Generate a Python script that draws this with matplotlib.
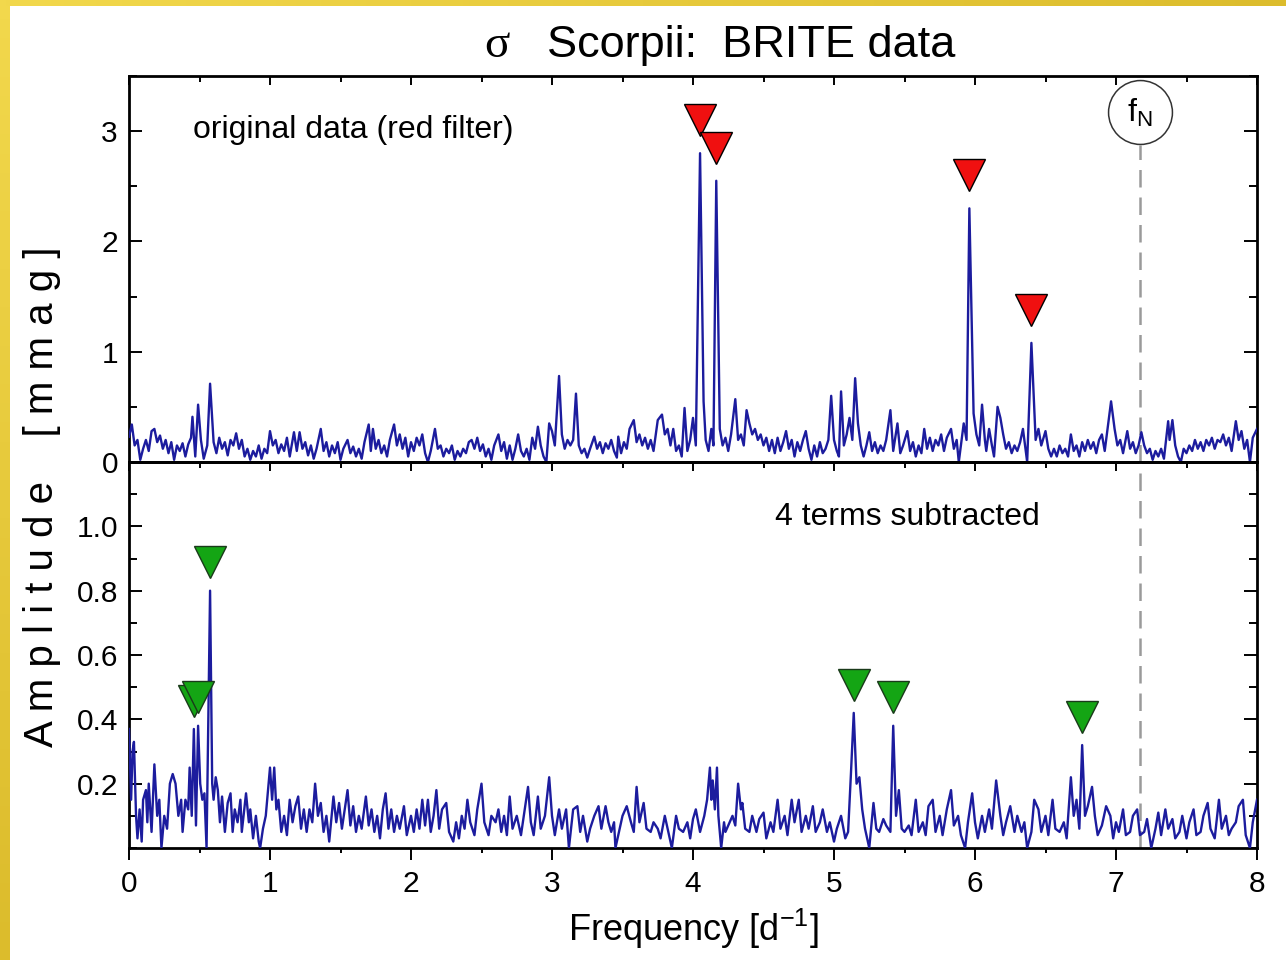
import numpy as np
import matplotlib
matplotlib.use("Agg")
import matplotlib.pyplot as plt
from matplotlib.ticker import MultipleLocator, FixedLocator, FixedFormatter, NullFormatter

plt.rcParams['font.family'] = ['Liberation Sans', 'DejaVu Sans']

# Amplitude spectrum of the original red-filter light curve (freq [1/d], amp [mmag])
top_spectrum = [
    (0.00, 0.23), (0.02, 0.34), (0.04, 0.15), (0.06, 0.20), (0.08, 0.02), (0.10, 0.12), (0.12, 0.20),
    (0.14, 0.10), (0.16, 0.28), (0.18, 0.30), (0.20, 0.18), (0.22, 0.24), (0.24, 0.12), (0.26, 0.20),
    (0.28, 0.08), (0.30, 0.18), (0.32, 0.02), (0.34, 0.15), (0.36, 0.10), (0.38, 0.17), (0.40, 0.05),
    (0.42, 0.16), (0.44, 0.22), (0.45, 0.41), (0.47, 0.05), (0.49, 0.52), (0.51, 0.20), (0.53, 0.03),
    (0.555, 0.15), (0.575, 0.71), (0.60, 0.18), (0.62, 0.08), (0.64, 0.22), (0.66, 0.12), (0.68, 0.18),
    (0.70, 0.06), (0.72, 0.20), (0.74, 0.15), (0.76, 0.26), (0.78, 0.12), (0.80, 0.20), (0.82, 0.05),
    (0.84, 0.12), (0.86, 0.02), (0.88, 0.10), (0.90, 0.05), (0.92, 0.15), (0.94, 0.03), (0.96, 0.12),
    (0.98, 0.08), (1.00, 0.28), (1.02, 0.15), (1.04, 0.20), (1.06, 0.08), (1.08, 0.16), (1.10, 0.10),
    (1.12, 0.22), (1.14, 0.05), (1.17, 0.27), (1.19, 0.10), (1.21, 0.27), (1.23, 0.12), (1.25, 0.18),
    (1.27, 0.06), (1.29, 0.15), (1.31, 0.03), (1.33, 0.12), (1.36, 0.30), (1.38, 0.10), (1.40, 0.18),
    (1.42, 0.05), (1.44, 0.15), (1.46, 0.08), (1.48, 0.18), (1.50, 0.02), (1.52, 0.12), (1.55, 0.20),
    (1.57, 0.08), (1.59, 0.14), (1.61, 0.05), (1.63, 0.12), (1.65, 0.03), (1.67, 0.18), (1.70, 0.34),
    (1.715, 0.10), (1.73, 0.30), (1.75, 0.12), (1.77, 0.20), (1.79, 0.08), (1.81, 0.15), (1.83, 0.05),
    (1.85, 0.20), (1.88, 0.34), (1.90, 0.15), (1.92, 0.25), (1.94, 0.12), (1.96, 0.22), (1.98, 0.05),
    (2.00, 0.18), (2.02, 0.10), (2.04, 0.22), (2.06, 0.15), (2.08, 0.25), (2.10, 0.08), (2.12, 0.00),
    (2.14, 0.10), (2.17, 0.30), (2.19, 0.12), (2.21, 0.15), (2.23, 0.05), (2.25, 0.12), (2.27, 0.08),
    (2.29, 0.15), (2.31, 0.02), (2.33, 0.10), (2.35, 0.05), (2.37, 0.12), (2.39, 0.08), (2.41, 0.18),
    (2.43, 0.20), (2.45, 0.12), (2.47, 0.22), (2.49, 0.10), (2.51, 0.16), (2.53, 0.05), (2.55, 0.12),
    (2.57, 0.02), (2.59, 0.15), (2.62, 0.25), (2.64, 0.10), (2.66, 0.18), (2.68, 0.03), (2.70, 0.15),
    (2.72, 0.02), (2.74, 0.12), (2.76, 0.25), (2.78, 0.10), (2.80, 0.05), (2.82, 0.12), (2.84, 0.02),
    (2.86, 0.22), (2.88, 0.12), (2.90, 0.32), (2.92, 0.15), (2.94, 0.05), (2.96, 0.00), (2.98, 0.35),
    (3.00, 0.28), (3.02, 0.15), (3.05, 0.78), (3.07, 0.25), (3.09, 0.12), (3.11, 0.20), (3.13, 0.15),
    (3.15, 0.20), (3.17, 0.62), (3.19, 0.15), (3.21, 0.08), (3.23, 0.12), (3.25, 0.04), (3.27, 0.12),
    (3.30, 0.23), (3.32, 0.12), (3.34, 0.18), (3.36, 0.08), (3.38, 0.17), (3.40, 0.12), (3.42, 0.20),
    (3.44, 0.10), (3.46, 0.04), (3.47, 0.23), (3.49, 0.08), (3.51, 0.18), (3.53, 0.12), (3.55, 0.30),
    (3.58, 0.38), (3.60, 0.18), (3.62, 0.25), (3.64, 0.15), (3.66, 0.22), (3.68, 0.12), (3.70, 0.20),
    (3.72, 0.10), (3.75, 0.38), (3.78, 0.43), (3.80, 0.25), (3.82, 0.30), (3.84, 0.15), (3.86, 0.30),
    (3.88, 0.10), (3.90, 0.15), (3.92, 0.05), (3.94, 0.49), (3.96, 0.10), (3.98, 0.20), (4.00, 0.40),
    (4.02, 0.15), (4.05, 2.80), (4.075, 0.55), (4.09, 0.20), (4.11, 0.10), (4.13, 0.30), (4.145, 0.15),
    (4.165, 2.55), (4.19, 0.30), (4.21, 0.15), (4.23, 0.22), (4.25, 0.10), (4.27, 0.25), (4.30, 0.57),
    (4.32, 0.20), (4.34, 0.25), (4.36, 0.15), (4.38, 0.47), (4.40, 0.35), (4.42, 0.25), (4.44, 0.30),
    (4.46, 0.20), (4.48, 0.25), (4.50, 0.15), (4.52, 0.22), (4.54, 0.10), (4.56, 0.20), (4.58, 0.08),
    (4.60, 0.22), (4.62, 0.10), (4.64, 0.18), (4.66, 0.28), (4.68, 0.12), (4.70, 0.20), (4.72, 0.05),
    (4.74, 0.18), (4.76, 0.10), (4.78, 0.20), (4.80, 0.28), (4.82, 0.12), (4.84, 0.02), (4.86, 0.15),
    (4.88, 0.05), (4.90, 0.18), (4.92, 0.08), (4.94, 0.12), (4.96, 0.20), (4.98, 0.60), (5.00, 0.20),
    (5.02, 0.10), (5.035, 0.05), (5.05, 0.64), (5.07, 0.15), (5.09, 0.25), (5.11, 0.40), (5.13, 0.20),
    (5.15, 0.76), (5.17, 0.35), (5.19, 0.15), (5.21, 0.05), (5.23, 0.15), (5.25, 0.27), (5.27, 0.10),
    (5.29, 0.18), (5.31, 0.08), (5.33, 0.15), (5.35, 0.10), (5.37, 0.20), (5.40, 0.47), (5.42, 0.10),
    (5.45, 0.35), (5.47, 0.08), (5.49, 0.15), (5.52, 0.28), (5.54, 0.10), (5.56, 0.18), (5.58, 0.05),
    (5.60, 0.15), (5.62, 0.08), (5.64, 0.30), (5.66, 0.12), (5.68, 0.22), (5.70, 0.10), (5.72, 0.20),
    (5.74, 0.15), (5.76, 0.25), (5.78, 0.10), (5.80, 0.22), (5.83, 0.30), (5.85, 0.12), (5.87, 0.20),
    (5.885, 0.00), (5.90, 0.15), (5.92, 0.35), (5.94, 0.20), (5.96, 2.30), (5.99, 0.44), (6.01, 0.25),
    (6.03, 0.15), (6.05, 0.52), (6.07, 0.20), (6.08, 0.10), (6.10, 0.30), (6.12, 0.15), (6.135, 0.05),
    (6.16, 0.50), (6.18, 0.40), (6.20, 0.25), (6.22, 0.12), (6.24, 0.18), (6.26, 0.08), (6.28, 0.15),
    (6.30, 0.10), (6.32, 0.18), (6.34, 0.30), (6.36, 0.10), (6.37, 0.00), (6.40, 1.08), (6.43, 0.20),
    (6.45, 0.30), (6.47, 0.15), (6.50, 0.28), (6.52, 0.12), (6.54, 0.05), (6.56, 0.12), (6.58, 0.05),
    (6.60, 0.15), (6.62, 0.08), (6.64, 0.12), (6.66, 0.05), (6.68, 0.25), (6.70, 0.10), (6.72, 0.15),
    (6.74, 0.05), (6.76, 0.18), (6.78, 0.10), (6.80, 0.20), (6.82, 0.12), (6.84, 0.18), (6.86, 0.08),
    (6.88, 0.20), (6.90, 0.25), (6.92, 0.10), (6.94, 0.30), (6.965, 0.55), (6.99, 0.30), (7.01, 0.15),
    (7.03, 0.20), (7.05, 0.08), (7.08, 0.28), (7.10, 0.12), (7.12, 0.18), (7.14, 0.08), (7.16, 0.15),
    (7.18, 0.27), (7.20, 0.15), (7.22, 0.08), (7.24, 0.12), (7.26, 0.02), (7.28, 0.10), (7.30, 0.05),
    (7.32, 0.12), (7.34, 0.03), (7.37, 0.37), (7.38, 0.20), (7.40, 0.38), (7.42, 0.15), (7.44, 0.05),
    (7.46, 0.00), (7.48, 0.12), (7.50, 0.08), (7.52, 0.15), (7.54, 0.10), (7.56, 0.20), (7.58, 0.12),
    (7.60, 0.18), (7.62, 0.10), (7.64, 0.20), (7.66, 0.15), (7.68, 0.22), (7.70, 0.12), (7.72, 0.20),
    (7.74, 0.18), (7.76, 0.25), (7.78, 0.15), (7.80, 0.22), (7.82, 0.10), (7.85, 0.37), (7.87, 0.20),
    (7.89, 0.28), (7.91, 0.12), (7.93, 0.20), (7.95, 0.00), (7.97, 0.22), (8.00, 0.30),
]

# Amplitude spectrum after prewhitening four terms
bottom_spectrum = [
    (0.00, 0.37), (0.015, 0.15), (0.025, 0.30), (0.035, 0.33), (0.05, 0.10), (0.06, 0.03), (0.075, 0.12),
    (0.09, 0.02), (0.10, 0.15), (0.12, 0.18), (0.13, 0.08), (0.14, 0.20), (0.16, 0.05), (0.18, 0.26),
    (0.20, 0.10), (0.215, 0.15), (0.23, 0.00), (0.25, 0.10), (0.27, 0.06), (0.29, 0.20), (0.31, 0.23),
    (0.33, 0.20), (0.35, 0.10), (0.37, 0.15), (0.38, 0.05), (0.40, 0.15), (0.42, 0.12), (0.43, 0.25),
    (0.445, 0.10), (0.46, 0.37), (0.475, 0.07), (0.49, 0.38), (0.505, 0.20), (0.52, 0.15), (0.535, 0.17),
    (0.55, 0.00), (0.575, 0.80), (0.59, 0.20), (0.60, 0.15), (0.615, 0.22), (0.63, 0.18), (0.645, 0.08),
    (0.66, 0.16), (0.68, 0.05), (0.70, 0.14), (0.72, 0.17), (0.735, 0.05), (0.75, 0.12), (0.77, 0.08),
    (0.79, 0.15), (0.80, 0.05), (0.83, 0.17), (0.85, 0.08), (0.86, 0.12), (0.88, 0.03), (0.90, 0.10),
    (0.92, 0.02), (0.93, 0.00), (0.95, 0.06), (0.97, 0.10), (1.00, 0.25), (1.015, 0.15), (1.03, 0.25),
    (1.045, 0.12), (1.06, 0.15), (1.08, 0.05), (1.10, 0.10), (1.12, 0.04), (1.14, 0.15), (1.16, 0.08),
    (1.18, 0.13), (1.20, 0.16), (1.22, 0.06), (1.24, 0.12), (1.26, 0.05), (1.28, 0.12), (1.30, 0.08),
    (1.32, 0.20), (1.34, 0.10), (1.36, 0.14), (1.38, 0.05), (1.40, 0.10), (1.42, 0.02), (1.45, 0.16),
    (1.47, 0.08), (1.49, 0.14), (1.51, 0.06), (1.53, 0.12), (1.55, 0.18), (1.57, 0.07), (1.59, 0.13),
    (1.61, 0.05), (1.63, 0.10), (1.65, 0.06), (1.68, 0.16), (1.70, 0.07), (1.72, 0.12), (1.74, 0.05),
    (1.76, 0.10), (1.78, 0.03), (1.80, 0.12), (1.82, 0.17), (1.84, 0.06), (1.86, 0.12), (1.88, 0.05),
    (1.90, 0.10), (1.92, 0.06), (1.95, 0.13), (1.97, 0.04), (2.00, 0.10), (2.02, 0.05), (2.04, 0.12),
    (2.06, 0.06), (2.08, 0.15), (2.10, 0.07), (2.12, 0.15), (2.14, 0.05), (2.16, 0.10), (2.18, 0.18),
    (2.20, 0.06), (2.22, 0.12), (2.25, 0.14), (2.27, 0.05), (2.30, 0.02), (2.32, 0.08), (2.34, 0.03),
    (2.36, 0.10), (2.38, 0.06), (2.40, 0.15), (2.42, 0.08), (2.45, 0.04), (2.47, 0.12), (2.50, 0.20),
    (2.52, 0.08), (2.55, 0.04), (2.57, 0.10), (2.60, 0.08), (2.62, 0.12), (2.64, 0.05), (2.66, 0.10),
    (2.68, 0.04), (2.70, 0.16), (2.72, 0.06), (2.75, 0.10), (2.78, 0.04), (2.80, 0.10), (2.83, 0.19),
    (2.85, 0.08), (2.87, 0.04), (2.90, 0.16), (2.92, 0.06), (2.95, 0.10), (2.98, 0.22), (3.00, 0.10),
    (3.02, 0.04), (3.05, 0.12), (3.07, 0.06), (3.10, 0.12), (3.12, 0.00), (3.15, 0.12), (3.18, 0.13),
    (3.20, 0.05), (3.22, 0.10), (3.25, 0.02), (3.27, 0.06), (3.30, 0.10), (3.33, 0.13), (3.35, 0.06),
    (3.38, 0.13), (3.40, 0.08), (3.42, 0.05), (3.44, 0.08), (3.45, 0.00), (3.48, 0.06), (3.50, 0.10),
    (3.53, 0.13), (3.56, 0.08), (3.58, 0.05), (3.60, 0.19), (3.62, 0.08), (3.65, 0.14), (3.67, 0.06),
    (3.70, 0.05), (3.72, 0.08), (3.75, 0.06), (3.77, 0.03), (3.80, 0.10), (3.82, 0.06), (3.85, 0.00),
    (3.88, 0.10), (3.90, 0.06), (3.93, 0.05), (3.96, 0.08), (3.98, 0.03), (4.00, 0.09), (4.02, 0.12),
    (4.05, 0.05), (4.08, 0.10), (4.10, 0.15), (4.12, 0.25), (4.13, 0.15), (4.14, 0.21), (4.155, 0.12),
    (4.17, 0.25), (4.18, 0.10), (4.20, 0.00), (4.22, 0.08), (4.23, 0.05), (4.26, 0.08), (4.28, 0.10),
    (4.30, 0.07), (4.32, 0.20), (4.34, 0.12), (4.35, 0.14), (4.37, 0.06), (4.40, 0.05), (4.42, 0.10),
    (4.45, 0.05), (4.47, 0.09), (4.50, 0.11), (4.52, 0.03), (4.55, 0.08), (4.57, 0.05), (4.60, 0.15),
    (4.62, 0.06), (4.65, 0.10), (4.67, 0.04), (4.70, 0.15), (4.72, 0.08), (4.75, 0.15), (4.77, 0.05),
    (4.80, 0.10), (4.82, 0.06), (4.85, 0.13), (4.87, 0.05), (4.90, 0.08), (4.92, 0.12), (4.95, 0.05),
    (4.97, 0.08), (5.00, 0.02), (5.02, 0.06), (5.05, 0.10), (5.08, 0.03), (5.10, 0.05), (5.12, 0.23),
    (5.14, 0.42), (5.16, 0.20), (5.18, 0.22), (5.20, 0.12), (5.22, 0.06), (5.25, 0.00), (5.28, 0.14),
    (5.30, 0.06), (5.32, 0.05), (5.35, 0.09), (5.37, 0.07), (5.40, 0.05), (5.42, 0.38), (5.44, 0.10),
    (5.46, 0.18), (5.48, 0.06), (5.50, 0.05), (5.53, 0.07), (5.55, 0.04), (5.58, 0.15), (5.60, 0.05),
    (5.63, 0.08), (5.65, 0.04), (5.67, 0.13), (5.70, 0.15), (5.72, 0.05), (5.75, 0.10), (5.77, 0.04),
    (5.80, 0.12), (5.83, 0.18), (5.85, 0.07), (5.88, 0.10), (5.90, 0.04), (5.93, 0.00), (5.95, 0.08),
    (5.98, 0.17), (6.00, 0.08), (6.02, 0.03), (6.05, 0.10), (6.07, 0.05), (6.10, 0.12), (6.12, 0.06),
    (6.15, 0.21), (6.18, 0.10), (6.20, 0.04), (6.22, 0.08), (6.25, 0.13), (6.28, 0.05), (6.30, 0.10),
    (6.33, 0.05), (6.35, 0.08), (6.37, 0.00), (6.40, 0.05), (6.42, 0.15), (6.45, 0.12), (6.47, 0.05),
    (6.50, 0.10), (6.52, 0.04), (6.55, 0.15), (6.57, 0.06), (6.60, 0.05), (6.63, 0.08), (6.65, 0.03),
    (6.68, 0.22), (6.70, 0.10), (6.72, 0.15), (6.74, 0.06), (6.76, 0.32), (6.78, 0.10), (6.80, 0.13),
    (6.83, 0.19), (6.85, 0.10), (6.87, 0.04), (6.90, 0.07), (6.93, 0.13), (6.96, 0.10), (6.98, 0.03),
    (7.00, 0.08), (7.02, 0.05), (7.05, 0.12), (7.07, 0.04), (7.10, 0.05), (7.12, 0.10), (7.15, 0.12),
    (7.17, 0.04), (7.20, 0.05), (7.22, 0.09), (7.25, 0.00), (7.28, 0.06), (7.30, 0.11), (7.32, 0.04),
    (7.35, 0.12), (7.37, 0.06), (7.40, 0.09), (7.42, 0.03), (7.45, 0.05), (7.47, 0.10), (7.50, 0.03),
    (7.52, 0.08), (7.55, 0.12), (7.57, 0.04), (7.60, 0.05), (7.62, 0.10), (7.65, 0.14), (7.67, 0.06),
    (7.70, 0.03), (7.73, 0.15), (7.75, 0.06), (7.78, 0.10), (7.80, 0.04), (7.82, 0.06), (7.85, 0.08),
    (7.87, 0.13), (7.90, 0.15), (7.92, 0.04), (7.95, 0.00), (7.97, 0.08), (8.00, 0.15),
]

# Identified frequencies and their amplitudes
top_peak_freq = [4.05, 4.165, 5.96, 6.40]
top_peak_amp = [2.80, 2.55, 2.30, 1.08]
bottom_peak_freq = [0.46, 0.49, 0.575, 5.14, 5.42, 6.76]
bottom_peak_amp = [0.37, 0.38, 0.80, 0.42, 0.38, 0.32]

nyquist_freq = 7.17

top_yticks = [0, 1, 2, 3]
bottom_yticks = [0.2, 0.4, 0.6, 0.8, 1.0]
xticks = [0, 1, 2, 3, 4, 5, 6, 7, 8]

LINE = "#1c1c9e"
W, H = 1286, 960
fig = plt.figure(figsize=(W / 100, H / 100), dpi=100)
fig.patch.set_facecolor("white")

# yellow frame on the left and top edges
left_strip = fig.add_axes([0, 0, 10 / W, 1])
left_strip.imshow(np.linspace(0, 1, 50)[:, None], aspect="auto",
                  cmap=matplotlib.colors.LinearSegmentedColormap.from_list("y1", ["#dcbc2c", "#f2d84c"]),
                  origin="lower", extent=[0, 1, 0, 1])
left_strip.axis("off")
top_strip = fig.add_axes([0, 1 - 6 / H, 1, 6 / H])
top_strip.imshow(np.linspace(0, 1, 200)[None, :], aspect="auto",
                 cmap=matplotlib.colors.LinearSegmentedColormap.from_list("y2", ["#f2d84c", "#dcbc2c"]),
                 extent=[0, 1, 0, 1])
top_strip.axis("off")

ax_l, ax_w = 129 / W, 1128 / W
ax_top = fig.add_axes([ax_l, 1 - 462 / H, ax_w, 386 / H])
ax_bot = fig.add_axes([ax_l, 1 - 848 / H, ax_w, 386 / H])

tf, ta = np.array(top_spectrum).T
bf, ba = np.array(bottom_spectrum).T
ax_top.plot(tf, ta, color=LINE, lw=1.7, zorder=3)
ax_bot.plot(bf, ba, color=LINE, lw=1.7, zorder=3)

ax_top.set_xlim(0, 8)
ax_top.set_ylim(0, 3.5)
ax_bot.set_xlim(0, 8)
ax_bot.set_ylim(0, 1.2)

for ax in (ax_top, ax_bot):
    for s in ax.spines.values():
        s.set_linewidth(2.0)
    ax.xaxis.set_major_locator(FixedLocator(xticks))
    ax.xaxis.set_minor_locator(MultipleLocator(0.5))
    ax.tick_params(axis="y", which="both", direction="in", left=True, right=True, width=1.4,
                   labelsize=21.5, pad=8)
    ax.tick_params(axis="y", which="major", length=9.4)
    ax.tick_params(axis="y", which="minor", length=5.8)

# upper panel: inward ticks along the top edge only
ax_top.tick_params(axis="x", which="both", direction="in", top=True, bottom=False,
                   labelbottom=False, width=1.4)
ax_top.tick_params(axis="x", which="major", length=6.5)
ax_top.tick_params(axis="x", which="minor", length=4.5)

# lower panel: outward ticks at the bottom, inward ticks at the shared edge
ax_bot.tick_params(axis="x", which="both", direction="out", top=False, bottom=True,
                   width=1.4, labelsize=21.5, pad=7)
ax_bot.tick_params(axis="x", which="major", length=8.6)
ax_bot.tick_params(axis="x", which="minor", length=3.5)
sec = ax_bot.secondary_xaxis("top")
sec.xaxis.set_major_locator(FixedLocator(xticks))
sec.xaxis.set_minor_locator(MultipleLocator(0.5))
sec.xaxis.set_major_formatter(NullFormatter())
sec.tick_params(which="both", direction="in", width=1.4)
sec.tick_params(which="major", length=6.5)
sec.tick_params(which="minor", length=4.5)
sec.spines["top"].set_linewidth(2.0)

ax_top.yaxis.set_major_locator(FixedLocator(top_yticks))
ax_top.yaxis.set_major_formatter(FixedFormatter([str(v) for v in top_yticks]))
ax_top.yaxis.set_minor_locator(MultipleLocator(0.5))

ax_bot.yaxis.set_major_locator(FixedLocator(bottom_yticks))
ax_bot.yaxis.set_major_formatter(FixedFormatter([f"{v:.1f}" for v in bottom_yticks]))
ax_bot.yaxis.set_minor_locator(MultipleLocator(0.1))
ax_bot.xaxis.set_major_formatter(FixedFormatter([str(v) for v in xticks]))

# markers above identified peaks
ax_top.plot(top_peak_freq, np.array(top_peak_amp) + 0.30, linestyle="none", marker="v",
            ms=23, mfc="#f01010", mec="black", mew=1.0, zorder=5, clip_on=False)
ax_bot.plot(bottom_peak_freq, np.array(bottom_peak_amp) + 0.088, linestyle="none", marker="v",
            ms=23, mfc="#14a514", mec="#1a3a1a", mew=1.0, zorder=5, clip_on=False)

# Nyquist frequency
circle_y = 3.17
ax_top.axvline(nyquist_freq, ymin=0, ymax=2.87 / 3.5, color="#9a9a9a", lw=1.8,
               linestyle=(0, (7, 4)), zorder=2)
ax_bot.axvline(nyquist_freq, color="#9a9a9a", lw=1.8, linestyle=(0, (7, 4)), zorder=2)
ax_top.plot([nyquist_freq], [circle_y], marker="o", ms=46, mfc="white", mec="#333333",
            mew=1.1, zorder=6, clip_on=False)
ax_top.text(nyquist_freq, circle_y, r"f$_\mathregular{N}$", ha="center", va="center",
            fontsize=23, zorder=7)

ax_top.text(0.0567, 0.86, "original data (red filter)", transform=ax_top.transAxes,
            ha="left", va="center", fontsize=23)
ax_bot.text(0.5727, 0.857, "4 terms subtracted", transform=ax_bot.transAxes,
            ha="left", va="center", fontsize=23)

fig.text(0.5 * (566 + 820) / W, 1 - 929 / H, r"Frequency [d$^\mathregular{-1}$]",
         ha="center", va="center", fontsize=26)
fig.text(42 / W, 1 - 497 / H, "A m p l i t u d e    [ m m a g ]", rotation=90,
         ha="center", va="center", fontsize=29)

fig.text(497 / W, 1 - 46 / H, "σ", ha="center", va="center", fontsize=34,
         family=["Liberation Serif", "DejaVu Serif"])
fig.text(547 / W, 1 - 46 / H, "Scorpii:  BRITE data", ha="left", va="center", fontsize=32.5)

fig.savefig("out.png", dpi=100, facecolor="white")
